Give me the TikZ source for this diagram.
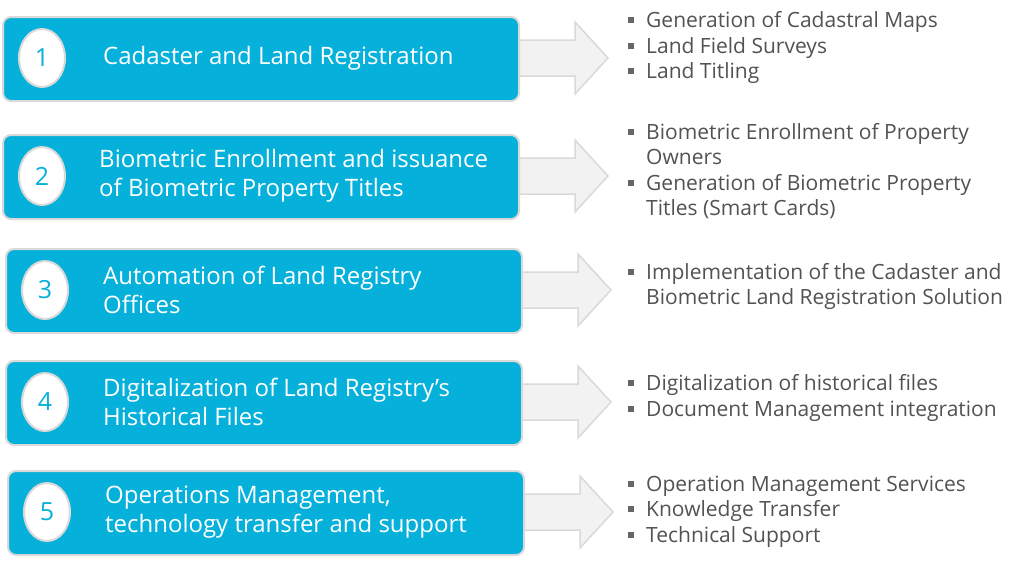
\documentclass[tikz,border=0pt]{standalone}
\usepackage{fontspec}
\setmainfont{Open Sans}
\usetikzlibrary{shapes.geometric}
\begin{document}
\begin{tikzpicture}[x=1pt,y=-1pt,
  box/.style={draw=black!15,line width=2pt,fill=boxblue,rounded corners=8pt,minimum width=516pt,minimum height=84pt,anchor=north west},
  num/.style={ellipse,draw=black!15,line width=2pt,fill=white,minimum width=46pt,minimum height=58pt,text=boxblue,font=\fontsize{25}{25}\selectfont,inner sep=0pt},
  lbl/.style={anchor=west,text=white,align=left,font=\fontsize{24}{29}\selectfont,inner sep=0pt},
  arr/.style={draw=black!15,line width=1.5pt,fill=black!5},
  item/.style={anchor=base west,text=black!68,align=left,font=\fontsize{21}{25.5}\selectfont,inner sep=0pt},
  bul/.style={fill=black!60,minimum size=5.5pt,inner sep=0pt}]
\definecolor{boxblue}{HTML}{05B0DA}
\useasboundingbox (0,0) rectangle (1024,560);
\newcommand{\rowbox}[6]{%
  \draw[arr] (#2+516,#3+24) -- (#2+573,#3+24) -- (#2+573,#3+6) -- (#2+606,#3+42) -- (#2+573,#3+78) -- (#2+573,#3+60) -- (#2+516,#3+60) -- cycle;
  \node[box] (#1) at (#2,#3) {};
  \node[num] (#1n) at (#2+40,#3+42) {#4};
  \node[lbl] (#1t) at (#6,#3+42) {#5};
}
\rowbox{b1}{2}{16}{1}{Cadaster and Land Registration}{103}
\rowbox{b2}{2}{134}{2}{Biometric Enrollment and issuance\\of Biometric Property Titles}{99}
\rowbox{b3}{5}{248}{3}{Automation of Land Registry\\Offices}{103}
\rowbox{b4}{5}{360}{4}{Digitalization of Land Registry’s\\Historical Files}{103}
\rowbox{b5}{7}{470}{5}{Operations Management,\\technology transfer and support}{105}
\newcommand{\itm}[3]{\node[bul] (#1b) at (631,#2) {}; \node[item] (#1) at (646,#2+7) {#3};}
\newcommand{\itmm}[3]{\node[bul] (#1b) at (631,#2) {}; \node[item] (#1) at (646,#2+32.5) {#3};}
\itm{i1}{20}{Generation of Cadastral Maps}
\itm{i2}{46}{Land Field Surveys}
\itm{i3}{71}{Land Titling}
\itmm{i4}{132}{Biometric Enrollment of Property\\Owners}
\itmm{i5}{183}{Generation of Biometric Property\\Titles (Smart Cards)}
\itmm{i6}{272}{Implementation of the Cadaster and\\Biometric Land Registration Solution}
\itm{i7}{383}{Digitalization of historical files}
\itm{i8}{409}{Document Management integration}
\itm{i9}{484}{Operation Management Services}
\itm{i10}{509}{Knowledge Transfer}
\itm{i11}{535}{Technical Support}
\end{tikzpicture}
\end{document}
